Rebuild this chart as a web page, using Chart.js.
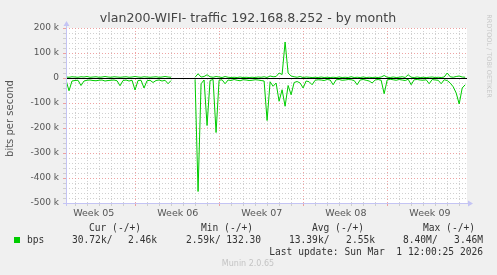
<!DOCTYPE html>
<html>
<head>
<meta charset="utf-8">
<script src="https://cdn.jsdelivr.net/npm/chart.js@4/dist/chart.umd.min.js"></script>
<style>
  html, body { margin: 0; padding: 0; background: #f0f0f0; }
</style>
</head>
<body>
<canvas id="munin" width="497" height="275"></canvas>
<script>
// graph texts
const title = 'vlan200-WIFI- traffic 192.168.8.252 - by month';
const yTitle = 'bits per second';
const weekLabels = ['Week 05', 'Week 06', 'Week 07', 'Week 08', 'Week 09'];
const lastUpdate = 'Last update: Sun Mar  1 12:00:25 2026';
const footer = 'Munin 2.0.65';

// time axis, in days from the left edge of the graph
const stepDays = 0.25;      // one sample every 6 hours
const firstMonday = 5.81;   // start of week 06
const spanDays = 33.4;

// y ticks in k bits/s
const yTicks = [200, 100, 0, -100, -200, -300, -400, -500];

// samples in k bits/s: "out" drawn up, "in" drawn down (munin negative)
const outVals = [4, 3, 5, 4, 3, 5, 4, 6, 3, 4, 5, 3, 4, 6, 4, 3, 5, 4, 3, 4, 5, 3, 4, 6, 4, 3, 5, 4, 3, 4, 5, 3, 4, 6, 4, 3,
  null, null, null, null, null, null, null,
  3, 17, 4, 6, 13, 5, 3, 6, 4, 2, 6, 3, 2, 3, 2, 4, 2, 3, 2, 3, 2, 4, 3, 5, 2, 8, 5, 6,
  20, 14, 144, 20, 8, 5, 3, 6, 2, 4, 3, 2, 3, 2, 4, 2, 3, 2, 3, 2, 4, 2, 3, 2, 5, 2, 3, 2, 4, 2, 3, 2, 3, 2, 4,
  10, 3, 2, 4, 2, 3, 5, 2, 13, 3, 2, 4, 2, 3, 2, 3, 4, 2, 3, 2, 4, 20, 5, 3, 6, 8, 4, 3];
const inVals = [-8, -51, -12, -10, -9, -30, -12, -9, -8, -10, -11, -9, -8, -12, -10, -9, -8, -11, -31, -10,
  -8, -12, -9, -48, -10, -9, -40, -11, -9, -18, -10, -8, -12, -9, -23, -10,
  null, null, null, null, null, null, null,
  -6, -454, -23, -8, -190, -10, -6, -218, -9, -7, -23, -8, -10, -6, -9, -11, -7, -8, -10, -9, -7, -8, -10, -12,
  -170, -15, -33, -20, -93, -47, -113, -30, -67, -18, -14, -20, -40, -12, -15, -27, -9, -7, -8, -10, -6, -8,
  -27, -7, -6, -9, -8, -6, -7, -10, -27, -8, -6, -9, -12, -20, -8, -6, -9, -63, -8, -5, -7, -9, -6, -8, -10,
  -5, -27, -7, -6, -8, -9, -7, -23, -6, -8, -9, -23, -7, -10, -20, -35, -60, -104, -40, -27];

// legend
const legendHeads = ['Cur (-/+)', 'Min (-/+)', 'Avg (-/+)', 'Max (-/+)'];
const legendVals = [['30.72k/', '2.46k'], ['2.59k/', '132.30'], ['13.39k/', '2.55k'], ['8.40M/', '3.46M']];

const GREEN = '#00cc00';
const MINOR = 'rgba(200,200,200,0.85)';
const MAJOR = 'rgba(235,140,140,0.8)';
const AXIS = '#c4c4f4';

const toPoints = vals => vals.map((v, i) => ({ x: i * stepDays, y: v }));

const weekBounds = [];
for (let d = firstMonday; d < spanDays; d += 7) weekBounds.push(d);
const weekCenters = weekLabels.map((l, i) => firstMonday - 3.5 + i * 7);
const dayTicks = [];
for (let d = firstMonday - 5; d < spanDays; d += 1) dayTicks.push(+d.toFixed(2));
const isWeek = v => weekBounds.some(b => Math.abs(b - v) < 0.01);
const isCenter = v => weekCenters.some(c => Math.abs(c - v) < 0.01);

const muninPlugin = {
  id: 'munin',
  beforeDraw(chart) {
    const { ctx, chartArea: a } = chart;
    ctx.save();
    ctx.fillStyle = '#f0f0f0';
    ctx.fillRect(0, 0, chart.width, chart.height);
    ctx.fillStyle = '#ffffff';
    ctx.fillRect(a.left, a.top, a.right - a.left, a.bottom - a.top);
    ctx.restore();
  },
  afterDatasetsDraw(chart) {
    const { ctx, chartArea: a, scales } = chart;
    const y0 = Math.round(scales.y.getPixelForValue(0)) + 0.5;
    ctx.save();
    // zero line
    ctx.strokeStyle = '#000';
    ctx.lineWidth = 1.2;
    ctx.beginPath();
    ctx.moveTo(a.left, y0);
    ctx.lineTo(a.right, y0);
    ctx.stroke();
    // axes with arrows
    ctx.strokeStyle = AXIS;
    ctx.fillStyle = AXIS;
    ctx.lineWidth = 1;
    const xl = a.left + 0.5, yb = a.bottom + 0.5;
    ctx.beginPath();
    ctx.moveTo(xl, a.bottom + 3);
    ctx.lineTo(xl, a.top - 3);
    ctx.moveTo(a.left - 3, yb);
    ctx.lineTo(a.right + 2, yb);
    ctx.stroke();
    ctx.beginPath();
    ctx.moveTo(xl - 3, a.top - 2);
    ctx.lineTo(xl + 3, a.top - 2);
    ctx.lineTo(xl, a.top - 7);
    ctx.fill();
    ctx.beginPath();
    ctx.moveTo(a.right + 1, yb - 3);
    ctx.lineTo(a.right + 1, yb + 3);
    ctx.lineTo(a.right + 6, yb);
    ctx.fill();
    ctx.restore();
  },
  afterDraw(chart) {
    const { ctx, chartArea: a } = chart;
    ctx.save();
    ctx.textBaseline = 'middle';
    // title
    ctx.fillStyle = '#444';
    ctx.font = '12.6px "DejaVu Sans"';
    ctx.textAlign = 'center';
    ctx.fillText(title, 248, 19);
    // y title
    ctx.save();
    ctx.translate(10, (a.top + a.bottom) / 2 + 3);
    ctx.rotate(-Math.PI / 2);
    ctx.fillStyle = '#555';
    ctx.font = '10px "DejaVu Sans"';
    ctx.fillText(yTitle, 0, 0);
    ctx.restore();
    // rrdtool credit
    ctx.save();
    ctx.translate(489, 56);
    ctx.rotate(Math.PI / 2);
    ctx.fillStyle = '#c8c8c8';
    ctx.font = '6.5px "DejaVu Sans"';
    ctx.fillText('RRDTOOL / TOBI OETIKER', 0, 0);
    ctx.restore();
    // legend
    ctx.fillStyle = '#333';
    ctx.font = '9.6px "DejaVu Sans Mono"';
    ctx.textAlign = 'left';
    const headX = [89, 201, 312, 423];
    legendHeads.forEach((h, i) => ctx.fillText(h, headX[i], 228));
    const valL = [72, 186, 289, 403];
    const valR = [157, 261, 375, 483];
    legendVals.forEach((p, i) => {
      ctx.textAlign = 'left';
      ctx.fillText(p[0], valL[i], 240);
      ctx.textAlign = 'right';
      ctx.fillText(p[1], valR[i], 240);
    });
    ctx.textAlign = 'left';
    ctx.fillText('bps', 27, 240);
    ctx.fillStyle = GREEN;
    ctx.fillRect(14, 237, 6, 6);
    ctx.fillStyle = '#333';
    ctx.textAlign = 'right';
    ctx.fillText(lastUpdate, 483, 252);
    ctx.textAlign = 'center';
    ctx.fillStyle = '#c4c4c4';
    ctx.font = '8px "DejaVu Sans"';
    ctx.fillText(footer, 248, 264);
    ctx.restore();
  }
};

new Chart(document.getElementById('munin'), {
  type: 'line',
  data: {
    datasets: [
      { label: 'out', data: toPoints(outVals), borderColor: GREEN, borderWidth: 1, pointRadius: 0, tension: 0, spanGaps: false },
      { label: 'in', data: toPoints(inVals), borderColor: GREEN, borderWidth: 1, pointRadius: 0, tension: 0, spanGaps: false }
    ]
  },
  options: {
    responsive: false,
    animation: false,
    devicePixelRatio: 1,
    layout: { padding: { top: 28, right: 30, left: 0, bottom: 0 } },
    plugins: { legend: { display: false }, tooltip: { enabled: false } },
    scales: {
      x: {
        type: 'linear',
        min: 0,
        max: spanDays,
        afterBuildTicks: s => { s.ticks = dayTicks.concat(weekCenters).map(v => ({ value: v })); },
        afterFit: s => { s.height = 72; },
        grid: {
          color: c => isCenter(c.tick.value) ? 'rgba(0,0,0,0)' : (isWeek(c.tick.value) ? MAJOR : MINOR),
          tickColor: c => isCenter(c.tick.value) ? 'rgba(0,0,0,0)' : (isWeek(c.tick.value) ? MAJOR : MINOR),
          tickLength: 3,
          lineWidth: 1
        },
        border: { display: false, dash: [1, 2] },
        ticks: {
          autoSkip: false,
          maxRotation: 0,
          padding: 2,
          color: '#555',
          font: { family: 'DejaVu Sans', size: 9.5 },
          callback: v => { const i = weekCenters.findIndex(c => Math.abs(c - v) < 0.01); return i >= 0 ? weekLabels[i] : ''; }
        }
      },
      y: {
        min: -500,
        max: 200,
        afterBuildTicks: s => {
          const t = [];
          for (let v = -500; v <= 200; v += 20) t.push({ value: v });
          s.ticks = t;
        },
        afterFit: s => { s.width = 66; },
        grid: {
          color: c => (c.tick.value % 100 === 0 ? MAJOR : MINOR),
          tickColor: c => (c.tick.value % 100 === 0 ? MAJOR : MINOR),
          tickLength: 3,
          lineWidth: 1
        },
        border: { display: false, dash: [1, 2] },
        ticks: {
          autoSkip: false,
          padding: 4,
          color: '#555',
          font: { family: 'DejaVu Sans', size: 9 },
          callback: v => (yTicks.includes(v) ? (v === 0 ? '0' : v + ' k') : '')
        }
      }
    }
  },
  plugins: [muninPlugin]
});
</script>
</body>
</html>
